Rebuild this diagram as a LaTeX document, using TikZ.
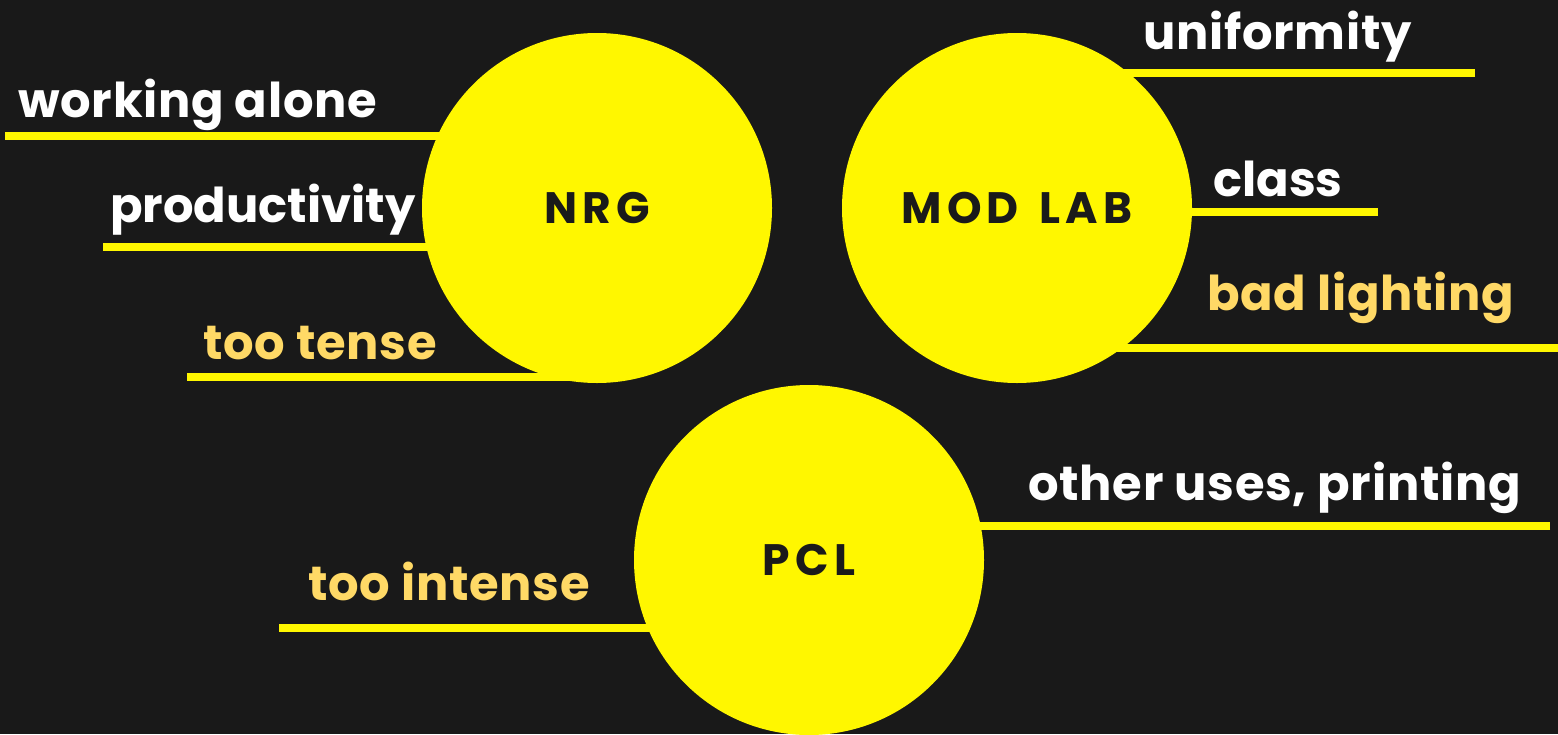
\documentclass[tikz,border=0pt]{standalone}
\usepackage{fontspec}
\setmainfont{Poppins}
\newfontfamily\hubfont{Poppins}[LetterSpace=12]
\newfontfamily\tagfont{Poppins}[LetterSpace=1.5]
\newfontfamily\tighttagfont{Poppins}
\definecolor{bg}{HTML}{191919}
\definecolor{sun}{HTML}{FFF700}
\definecolor{warn}{HTML}{FFD966}
\definecolor{ink}{HTML}{1A1A1A}
\begin{document}
\begin{tikzpicture}[x=1pt,y=-1pt,
  hub/.style={circle,fill=sun,minimum size=350pt,inner sep=0pt,
    font=\hubfont\bfseries\fontsize{44}{46}\selectfont,text=ink},
  spoke/.style={draw=sun,line width=8pt},
  tag/.style={inner sep=0pt,anchor=base west,
    font=\tagfont\bfseries\fontsize{48}{56}\selectfont,text=white},
  tighttag/.style={tag,font=\tighttagfont\bfseries\fontsize{48}{56}\selectfont},
  alert/.style={tag,text=warn}]
\fill[bg] (0,0) rectangle (1558,734);
\useasboundingbox (0,0) rectangle (1558,734);

% free ends of the spokes
\coordinate (e1) at (5,136);
\coordinate (e2) at (103,247);
\coordinate (e3) at (187,377);
\coordinate (e4) at (1475,73);
\coordinate (e5) at (1378,212);
\coordinate (e6) at (1558,348);
\coordinate (e7) at (1550,526);
\coordinate (e8) at (279,628);

% hub centres
\path (597,208) coordinate (nrgc);
\path (1017,208) coordinate (modc);
\path (809,560) coordinate (pclc);

% spokes, running into the hubs
\draw[spoke] (e1) -- (e1 -| nrgc);
\draw[spoke] (e2) -- (e2 -| nrgc);
\draw[spoke] (e3) -- (e3 -| nrgc);
\draw[spoke] (e4) -- (e4 -| modc);
\draw[spoke] (e5) -- (e5 -| modc);
\draw[spoke] (e6) -- (e6 -| modc);
\draw[spoke] (e7) -- (e7 -| pclc);
\draw[spoke] (e8) -- (e8 -| pclc);

\node[hub] (nrg) at (nrgc) {NRG};
\node[hub] (mod) at (modc) {MOD\hspace{6pt} LAB};
\node[hub] (pcl) at (pclc) {PCL};

% labels
\node[tag]      (t1) at (18,117)   {working alone};
\node[tighttag] (t2) at (110,222)  {productivity};
\node[alert]    (t3) at (203,359)  {too tense};
\node[tag]      (t4) at (1143,49)  {uniformity};
\node[tighttag] (t5) at (1213,196) {class};
\node[alert]    (t6) at (1207,310) {bad lighting};
\node[tag]      (t7) at (1028,500) {other uses, printing};
\node[alert]    (t8) at (308,600)  {too intense};
\end{tikzpicture}
\end{document}
